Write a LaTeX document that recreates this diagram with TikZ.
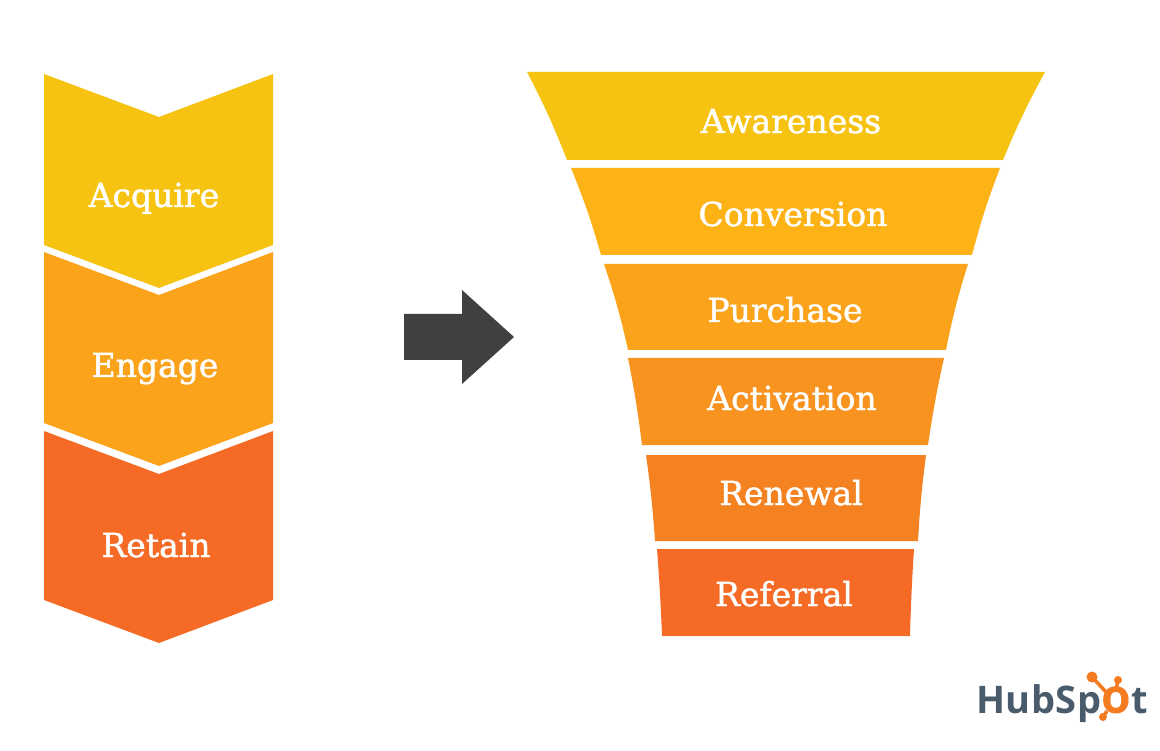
\documentclass[tikz,border=0pt]{standalone}
\usepackage{fontspec}
\setmainfont{DejaVu Serif}
\newfontfamily\stagefont[FakeBold=1.4]{DejaVu Serif}
\newfontfamily\logofont[LetterSpace=1.5]{Open Sans}
\definecolor{bandA}{HTML}{F6C313}
\definecolor{bandB}{HTML}{FDB316}
\definecolor{bandC}{HTML}{FAA31B}
\definecolor{bandD}{HTML}{F7931E}
\definecolor{bandE}{HTML}{F58220}
\definecolor{bandF}{HTML}{F56B25}
\definecolor{logoslate}{HTML}{4A5C6B}
\definecolor{logoorange}{HTML}{F47B20}
\begin{document}
\begin{tikzpicture}[x=1pt,y=-1pt]
  \tikzstyle{every node}=[inner sep=0pt,outer sep=0pt]
  \tikzstyle{stagetext}=[anchor=base,text=white,font=\stagefont\fontsize{33}{33}\selectfont]
  \tikzstyle{spoke}=[logoorange,line width=3.5pt]
  \useasboundingbox (0,0) rectangle (1160,751);
  \fill[white] (0,0) rectangle (1160,751);

  % left chevrons
  \fill[bandA] (44,74) -- (159,117) -- (273,74) -- (273,245) -- (159,288) -- (44,245) -- cycle;
  \fill[bandC] (44,252) -- (159,295) -- (273,252) -- (273,423) -- (159,466) -- (44,423) -- cycle;
  \fill[bandF] (44,431) -- (159,474) -- (273,431) -- (273,600) -- (159,643) -- (44,600) -- cycle;
  \node[stagetext] (acquire) at (154,207) {Acquire};
  \node[stagetext] (engage) at (155,377) {Engage};
  \node[stagetext] (retain) at (156,557) {Retain};

  % big arrow
  \fill[black!75] (404,314) -- (462,314) -- (462,290) -- (514,337) -- (462,384) -- (462,360) -- (404,360) -- cycle;

  % funnel
  \fill[bandA] (527,72) -- (1045,72) to[bend right=3] (1003,160) -- (567,160) to[bend right=3] cycle;
  \fill[bandB] (571,168) -- (1000,168) to[bend right=3] (972,255) -- (601,255) to[bend right=3] cycle;
  \fill[bandC] (604,264) -- (968,264) to[bend right=3] (946,350) -- (628,350) to[bend right=3] cycle;
  \fill[bandD] (628,358) -- (944,358) to[bend right=2] (928,445) -- (642,445) to[bend right=2] cycle;
  \fill[bandE] (646,455) -- (926,455) to[bend right=2] (918,541) -- (655,541) to[bend right=2] cycle;
  \fill[bandF] (657,549) -- (914,549) to[bend right=1] (910,636) -- (662,636) to[bend right=1] cycle;
  \node[stagetext] (awareness) at (791,133) {Awareness};
  \node[stagetext] (conversion) at (793,226) {Conversion};
  \node[stagetext] (purchase) at (785,322) {Purchase};
  \node[stagetext] (activation) at (792,410) {Activation};
  \node[stagetext] (renewal) at (791,505) {Renewal};
  \node[stagetext] (referral) at (784,606) {Referral};

  % logo
  \node[anchor=base west,text=logoslate,font=\logofont\fontsize{38}{38}\selectfont\bfseries] (hubspot) at (976,713)
    {HubSp\textcolor{logoorange}{\fontsize{48}{48}\selectfont o}t};
  \draw[spoke] (1092,677) -- (1106,692);
  \draw[spoke] (1118,680) -- (1116,690);
  \draw[spoke] (1103,717) -- (1107,711);
  \fill[logoorange] (1092,677) circle (5.5);
  \fill[logoorange] (1118,680) circle (4);
  \fill[logoorange] (1103,717) circle (4);
\end{tikzpicture}
\end{document}
